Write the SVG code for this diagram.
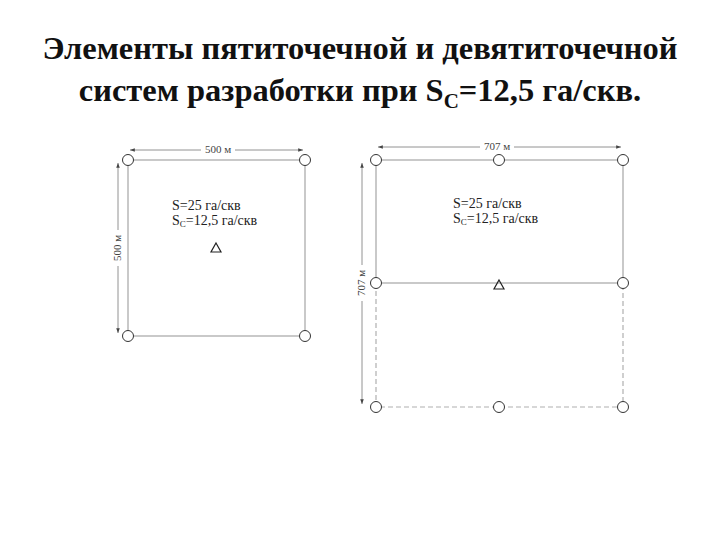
<svg xmlns="http://www.w3.org/2000/svg" width="720" height="540" viewBox="0 0 720 540">
<defs>
<style>
.title{font-family:"Liberation Serif","Times New Roman",serif;font-weight:bold;font-size:32.5px;fill:#111;text-anchor:middle}
.lbl{font-family:"Liberation Serif","Times New Roman",serif;font-size:14px;fill:#222}
.dim{font-family:"Liberation Serif","Times New Roman",serif;font-size:11px;fill:#444;text-anchor:middle}
.edge{stroke:#b8b8b8;stroke-width:1.5;fill:none}
.dash{stroke:#b0b0b0;stroke-width:1.2;fill:none;stroke-dasharray:5,3}
.dl{stroke:#777;stroke-width:0.8;fill:none;marker-start:url(#a);marker-end:url(#a)}
.well{fill:#fff;stroke:#333;stroke-width:1}
.inj{fill:none;stroke:#222;stroke-width:1.2}
</style>
<marker id="a" viewBox="0 0 8 6" refX="8" refY="3" markerWidth="6" markerHeight="4.5" orient="auto-start-reverse"><path d="M0,0L8,3L0,6z" fill="#444"/></marker>
</defs>
<text class="title" x="360" y="59">Элементы пятиточечной и девятиточечной</text>
<text class="title" x="360" y="101">систем разработки при S<tspan font-size="21" dy="7">C</tspan><tspan dy="-7">=12,5 га/скв.</tspan></text>
<g id="connectors">
<path class="edge" d="M128,160H305V336H128Z"/>
<path class="edge" d="M376,160H623V283H376Z"/>
<path class="dash" d="M376,283V407H623V283"/>
<line class="dl" x1="130" y1="150" x2="303" y2="150"/>
<line class="dl" x1="118" y1="163" x2="118" y2="333"/>
<line class="dl" x1="378" y1="147" x2="621" y2="147"/>
<line class="dl" x1="362" y1="163" x2="362" y2="404"/>
</g>
<g id="dims">
<rect x="201" y="144" width="34" height="12" fill="#fff"/>
<text class="dim" x="218" y="153">500 м</text>
<rect x="112" y="230" width="12" height="36" fill="#fff"/>
<text class="dim" transform="translate(121,248) rotate(-90)">500 м</text>
<rect x="480" y="141" width="34" height="12" fill="#fff"/>
<text class="dim" x="497" y="150">707 м</text>
<rect x="356" y="265" width="12" height="36" fill="#fff"/>
<text class="dim" transform="translate(365,283) rotate(-90)">707 м</text>
</g>
<g id="labels">
<text class="lbl" x="172" y="210">S=25 га/скв</text>
<text class="lbl" x="172" y="225">S<tspan font-size="9" dy="2">С</tspan><tspan dy="-2">=12,5 га/скв</tspan></text>
<text class="lbl" x="453" y="208">S=25 га/скв</text>
<text class="lbl" x="453" y="223">S<tspan font-size="9" dy="2">С</tspan><tspan dy="-2">=12,5 га/скв</tspan></text>
</g>
<g id="w1"><circle class="well" cx="128" cy="160" r="5.5"/></g>
<g id="w2"><circle class="well" cx="305" cy="160" r="5.5"/></g>
<g id="w3"><circle class="well" cx="128" cy="336" r="5.5"/></g>
<g id="w4"><circle class="well" cx="305" cy="336" r="5.5"/></g>
<g id="i1"><path class="inj" d="M216,243L221,252H211Z"/></g>
<g id="r1"><circle class="well" cx="376" cy="160" r="5.5"/></g>
<g id="r2"><circle class="well" cx="499" cy="160" r="5.5"/></g>
<g id="r3"><circle class="well" cx="623" cy="160" r="5.5"/></g>
<g id="r4"><circle class="well" cx="376" cy="283" r="5.5"/></g>
<g id="r6"><circle class="well" cx="623" cy="283" r="5.5"/></g>
<g id="r7"><circle class="well" cx="376" cy="407" r="5.5"/></g>
<g id="r8"><circle class="well" cx="499" cy="407" r="5.5"/></g>
<g id="r9"><circle class="well" cx="623" cy="407" r="5.5"/></g>
<g id="i2"><path class="inj" d="M499,280L504,289H494Z"/></g>
</svg>
